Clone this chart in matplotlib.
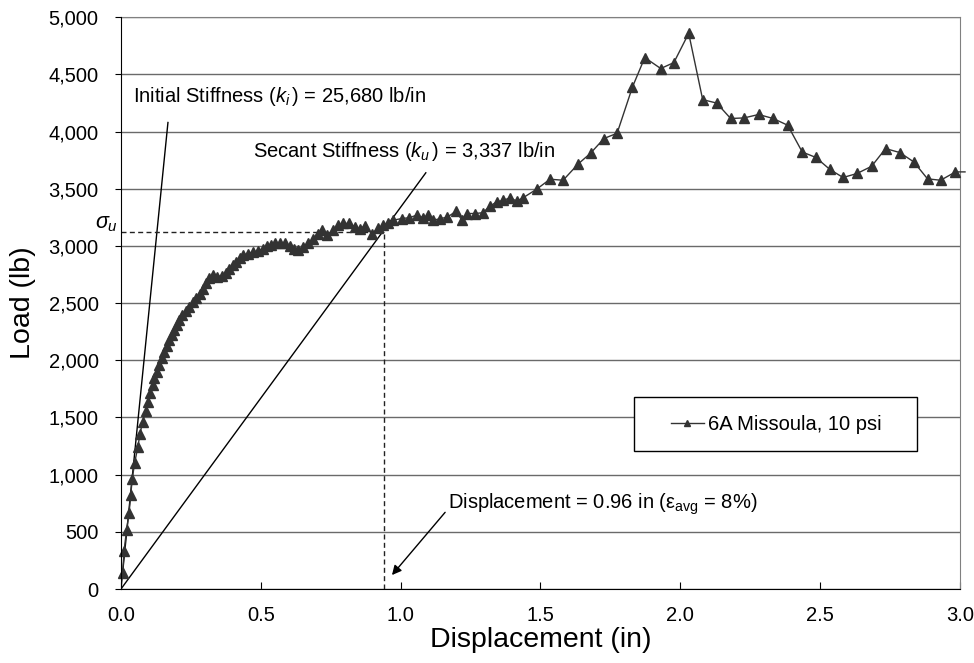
import matplotlib
matplotlib.use("Agg")
import matplotlib.pyplot as plt
from matplotlib.ticker import FuncFormatter, MultipleLocator
from matplotlib.patches import Rectangle

plt.rcParams['font.family'] = 'Liberation Sans'
plt.rcParams['mathtext.fontset'] = 'custom'
plt.rcParams['mathtext.rm'] = 'Liberation Sans'
plt.rcParams['mathtext.it'] = 'Liberation Sans:italic'

# Load-displacement record (in, lb)
displacement = [0.006, 0.011, 0.020, 0.029, 0.035, 0.040, 0.049, 0.060, 0.068, 0.077,
                0.088, 0.097, 0.104, 0.113, 0.119, 0.128, 0.137, 0.146, 0.154, 0.163,
                0.172, 0.181, 0.189, 0.199, 0.208, 0.219, 0.231, 0.243, 0.256, 0.268,
                0.281, 0.294, 0.305, 0.316, 0.329, 0.342, 0.360, 0.375, 0.388, 0.399,
                0.411, 0.424, 0.437, 0.455, 0.473, 0.491, 0.509, 0.521, 0.536, 0.551,
                0.568, 0.586, 0.604, 0.619, 0.634, 0.652, 0.670, 0.688, 0.705, 0.718,
                0.735, 0.759, 0.777, 0.795, 0.815, 0.837, 0.854, 0.872, 0.896, 0.920,
                0.938, 0.956, 0.972, 1.004, 1.030, 1.057, 1.081, 1.099, 1.117, 1.141,
                1.167, 1.198, 1.218, 1.239, 1.266, 1.294, 1.319, 1.343, 1.367, 1.391,
                1.415, 1.438, 1.486, 1.534, 1.581, 1.635, 1.679, 1.727, 1.774, 1.829,
                1.873, 1.930, 1.977, 2.030, 2.080, 2.130, 2.180, 2.228, 2.280, 2.332,
                2.384, 2.436, 2.485, 2.535, 2.582, 2.632, 2.684, 2.734, 2.785, 2.835,
                2.884, 2.931, 2.984, 3.018]
load = [137, 332, 516, 667, 822, 961, 1104, 1239, 1355, 1462,
        1556, 1639, 1713, 1783, 1847, 1899, 1958, 2017, 2074, 2124,
        2177, 2220, 2264, 2308, 2351, 2395, 2430, 2468, 2506, 2541,
        2583, 2622, 2672, 2716, 2749, 2730, 2740, 2760, 2795, 2832,
        2861, 2891, 2920, 2934, 2948, 2957, 2978, 3001, 3011, 3022,
        3029, 3029, 2998, 2976, 2963, 2992, 3022, 3065, 3109, 3138,
        3094, 3138, 3182, 3197, 3197, 3167, 3147, 3177, 3109, 3153,
        3182, 3202, 3225, 3240, 3247, 3269, 3247, 3269, 3225, 3239,
        3252, 3304, 3230, 3284, 3284, 3291, 3348, 3385, 3398, 3422,
        3392, 3422, 3496, 3584, 3575, 3718, 3811, 3940, 3986, 4391,
        4648, 4552, 4604, 4860, 4280, 4250, 4115, 4120, 4150, 4115,
        4056, 3822, 3774, 3669, 3599, 3634, 3697, 3852, 3817, 3735,
        3587, 3575, 3648, 3648]

# Stiffness construction lines
initial_x = [0.0, 0.168]
initial_y = [0, 4080]
secant_x = [0.0, 1.09]
secant_y = [0, 3640]
ult_disp = 0.94
ult_load = 3123

fig = plt.figure(figsize=(9.74, 6.63), dpi=100)
ax = fig.add_axes([0.1242, 0.1116, 0.8614, 0.8623])

ax.set_xlim(0, 3.0)
ax.set_ylim(0, 5000)
ax.xaxis.set_major_locator(MultipleLocator(0.5))
ax.yaxis.set_major_locator(MultipleLocator(500))
ax.xaxis.set_major_formatter(FuncFormatter(lambda v, p: "%.1f" % v))
ax.yaxis.set_major_formatter(FuncFormatter(lambda v, p: "{:,.0f}".format(v)))
ax.tick_params(axis='x', direction='in', length=5, pad=12, labelsize=14.5)
ax.tick_params(axis='y', direction='out', length=4, pad=12, labelsize=14.5)
ax.yaxis.grid(True, color='#6a6a6a', lw=1)
ax.set_axisbelow(True)
for s in ['top', 'right']:
    ax.spines[s].set_color('#808080')
for s in ['left', 'bottom']:
    ax.spines[s].set_color('black')
    ax.spines[s].set_zorder(4)

ax.set_xlabel("Displacement (in)", fontsize=20.5, labelpad=2)
ax.set_ylabel("Load (lb)", fontsize=20.5)
ax.yaxis.set_label_coords(-0.101, 0.5)

ax.plot(initial_x, initial_y, color='black', lw=1)
ax.plot(secant_x, secant_y, color='black', lw=1)
ax.plot([0, ult_disp], [ult_load, ult_load], color='#222222', lw=1, dashes=(3.6, 2.4))
ax.plot([ult_disp, ult_disp], [0, ult_load], color='#222222', lw=1, dashes=(3.6, 2.4))

line, = ax.plot(displacement, load, color='#333333', lw=1, marker='^', ms=7,
                markevery=slice(0, len(displacement) - 1), clip_on=False, zorder=3,
                label="6A Missoula, 10 psi")

ax.text(0.043, 4257, r"Initial Stiffness ($k_i\,$) = 25,680 lb/in", fontsize=14.5, va='baseline')
ax.text(0.472, 3776, r"Secant Stiffness ($k_u\,$) = 3,337 lb/in", fontsize=14.5, va='baseline')
ax.text(-0.004, 3150, r"$\sigma_u$", fontsize=15.5, va='baseline', ha='right',
        transform=ax.get_yaxis_transform())
ax.annotate(r"Displacement = 0.96 in (ε$_{\mathrm{avg}}$ = 8%)", xy=(0.969, 122), xytext=(1.169, 705),
            fontsize=14.5, va='baseline',
            arrowprops=dict(arrowstyle='-|>', color='black', lw=1, shrinkA=0, shrinkB=0,
                            mutation_scale=14, relpos=(0, 0.3)))

ax.add_patch(Rectangle((0.611, 0.241), 0.338, 0.095, transform=ax.transAxes,
                       facecolor='white', edgecolor='black', lw=1, zorder=4))
leg = ax.legend(handles=[line], loc='center', bbox_to_anchor=(0.781, 0.2885), frameon=False,
                fontsize=14.5, handlelength=1.6, handletextpad=0.2, markerscale=0.7)
leg.set_zorder(5)

fig.savefig("out.png", dpi=100)
